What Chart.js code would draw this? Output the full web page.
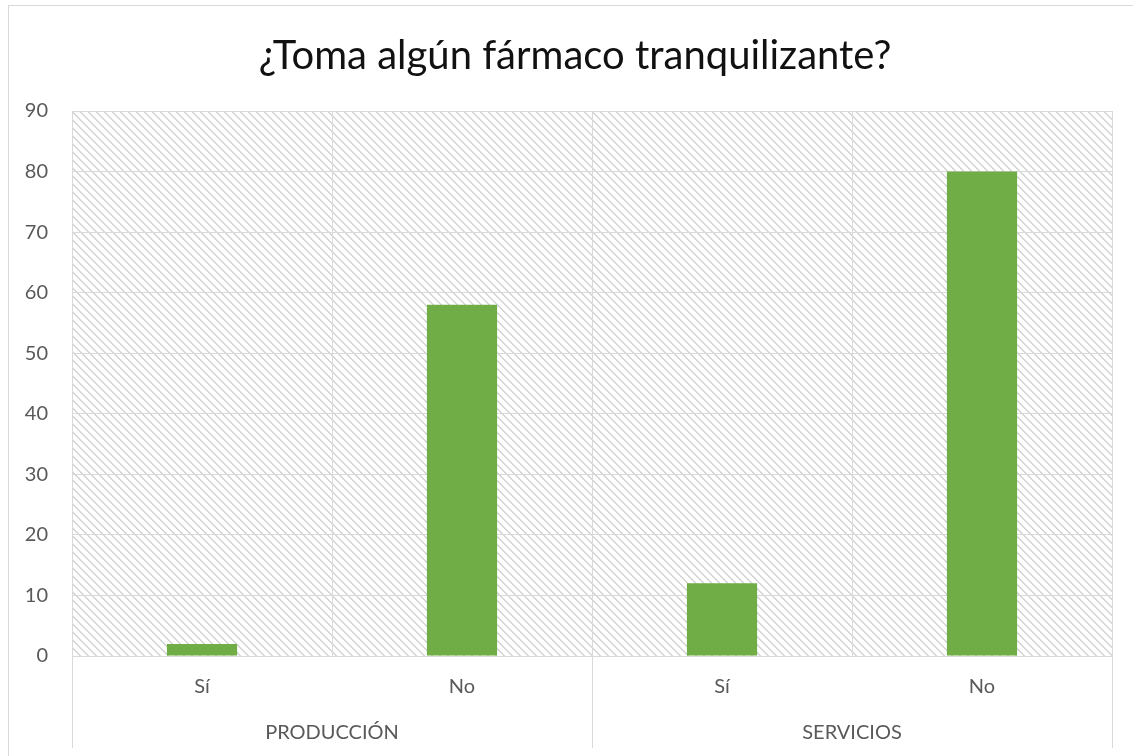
<!DOCTYPE html>
<html>
<head>
<meta charset="utf-8">
<script src="https://cdn.jsdelivr.net/npm/chart.js@4"></script>
<style>
html,body{margin:0;padding:0;background:#fff;}
#wrap{width:1133px;height:756px;position:relative;}
</style>
</head>
<body>
<div id="wrap"><canvas id="c" width="1133" height="756"></canvas></div>
<script>
const chartTitle = "¿Toma algún fármaco tranquilizante?";
const categories = ["Sí", "No", "Sí", "No"];
const groups = ["PRODUCCIÓN", "SERVICIOS"];
const values = [2, 58, 12, 80];
const yTicks = [0, 10, 20, 30, 40, 50, 60, 70, 80, 90];

const FONT = "Lato, Calibri, 'Liberation Sans', sans-serif";
const GRID = "#d9d9d9";

function makePattern(ctx) {
  const p = document.createElement("canvas");
  p.width = 8; p.height = 8;
  const g = p.getContext("2d");
  g.fillStyle = "#ffffff";
  g.fillRect(0, 0, 8, 8);
  g.fillStyle = "#d4d4d4";
  for (let i = 0; i < 8; i++) {
    g.fillRect(i, i, 1, 1);
    g.fillRect((i + 1) % 8, i, 1, 1);
  }
  return ctx.createPattern(p, "repeat");
}

const decor = {
  id: "decor",
  beforeDraw(chart) {
    const ctx = chart.ctx, a = chart.chartArea;
    ctx.save();
    ctx.fillStyle = "#fff";
    ctx.fillRect(0, 0, chart.width, chart.height);
    ctx.strokeStyle = GRID;
    ctx.lineWidth = 1;
    ctx.strokeRect(8.5, 5.5, chart.width + 10, chart.height + 10);
    ctx.fillStyle = makePattern(ctx);
    ctx.fillRect(a.left, a.top, a.right - a.left, a.bottom - a.top);
    ctx.restore();
  },
  afterDraw(chart) {
    const ctx = chart.ctx, a = chart.chartArea;
    const x2 = chart.scales.x2;
    const c0 = x2.getPixelForTick(0), c1 = x2.getPixelForTick(1);
    const bounds = [x2.left, (c0 + c1) / 2, x2.right];
    ctx.save();
    ctx.strokeStyle = GRID;
    ctx.lineWidth = 1;
    bounds.forEach(b => {
      const xx = Math.round(b) + 0.5;
      ctx.beginPath();
      ctx.moveTo(xx, a.bottom);
      ctx.lineTo(xx, chart.height - 8);
      ctx.stroke();
    });
    ctx.restore();
  }
};

new Chart(document.getElementById("c"), {
  type: "bar",
  data: {
    labels: categories,
    datasets: [{
      data: values,
      backgroundColor: "#70ad47",
      borderWidth: 0,
      barPercentage: 0.27,
      categoryPercentage: 1.0
    }]
  },
  options: {
    responsive: false,
    animation: false,
    layout: { padding: { left: 17, right: 0, top: 0, bottom: 0 } },
    plugins: {
      legend: { display: false },
      tooltip: { enabled: false },
      title: {
        display: true,
        text: chartTitle,
        color: "#111",
        font: { family: FONT, size: 40, weight: "normal", lineHeight: 1.2 },
        padding: { top: 32, bottom: 31 }
      }
    },
    scales: {
      y: {
        min: 0, max: 90,
        afterBuildTicks(s) { s.ticks = yTicks.map(v => ({ value: v })); },
        afterFit(s) { s.width = 55; },
        grid: { color: GRID, drawTicks: false, lineWidth: 1 },
        border: { color: GRID },
        ticks: { color: "#595959", padding: 24, font: { family: FONT, size: 20 } }
      },
      yRight: {
        type: "linear",
        position: "right",
        min: 0, max: 90,
        afterFit(s) { s.width = 21; },
        grid: { display: false, drawOnChartArea: false, drawTicks: false },
        border: { display: false },
        ticks: { display: false }
      },
      x: {
        afterFit(s) { s.height = 58; },
        grid: { offset: true, color: GRID, drawTicks: false },
        border: { color: GRID },
        ticks: { color: "#595959", padding: 19, font: { family: FONT, size: 20 }, maxRotation: 0 }
      },
      x2: {
        type: "category",
        labels: groups,
        position: "bottom",
        afterFit(s) { s.height = 42; },
        grid: { display: false, drawTicks: false },
        border: { display: false },
        ticks: { color: "#595959", padding: 7, font: { family: FONT, size: 20 }, maxRotation: 0 }
      }
    }
  },
  plugins: [decor]
});
</script>
</body>
</html>
